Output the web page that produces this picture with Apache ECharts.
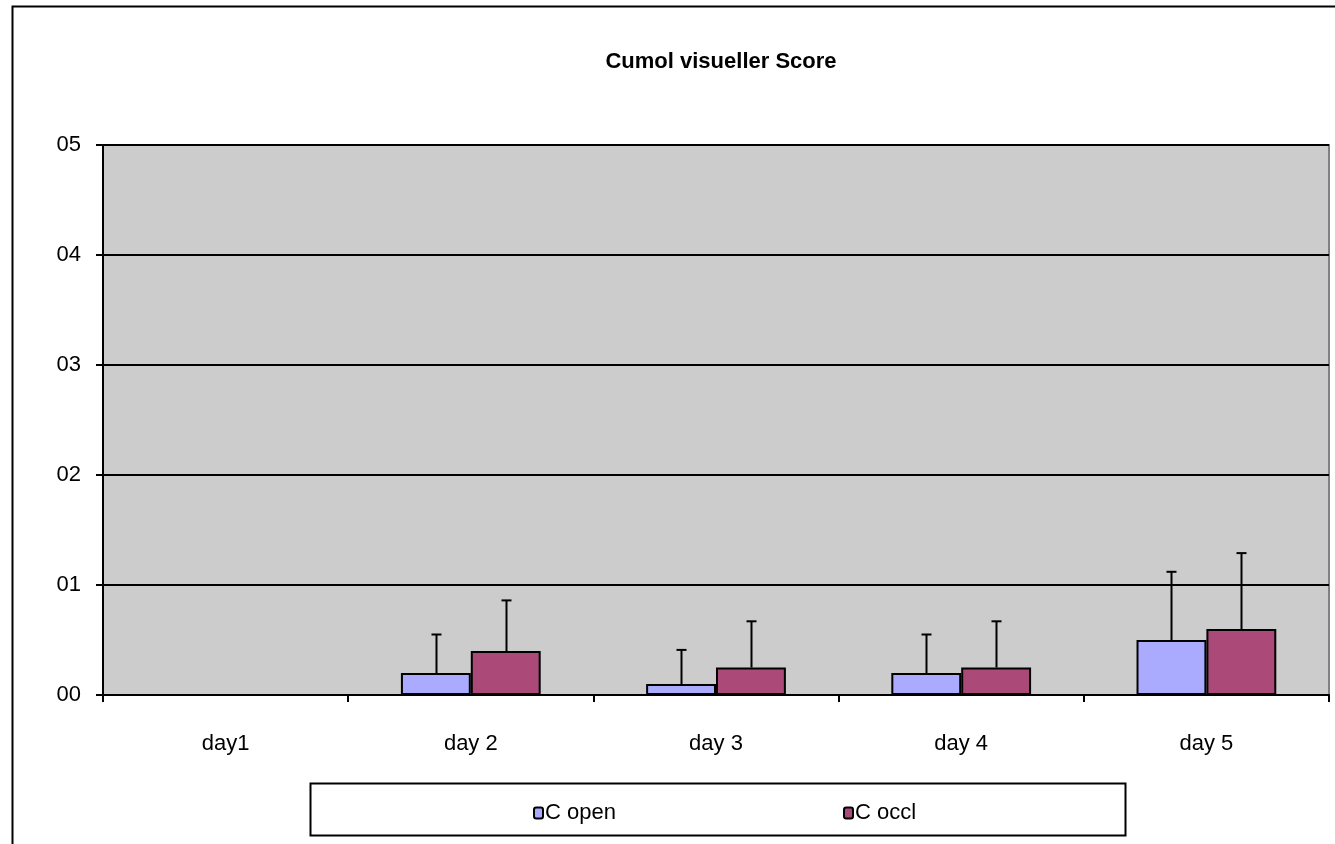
<!DOCTYPE html>
<html>
<head>
<meta charset="utf-8">
<script src="https://cdn.jsdelivr.net/npm/echarts@6/dist/echarts.min.js"></script>
<style>
html,body{margin:0;padding:0;background:#fff;}
#chart{width:1335px;height:844px;}
</style>
</head>
<body>
<div id="chart"></div>
<script>
const categories = ['day1', 'day 2', 'day 3', 'day 4', 'day 5'];
const openValues = [0, 0.2, 0.1, 0.2, 0.5];
const occlValues = [0, 0.4, 0.25, 0.25, 0.6];
const openErrors = [0, 0.35, 0.31, 0.35, 0.62];
const occlErrors = [0, 0.46, 0.42, 0.42, 0.69];
const yTicks = [0, 1, 2, 3, 4, 5];

const FONT = 'Liberation Sans, Arial, sans-serif';
const CAT_GAP = 0.43;

function errSeries(name, values, errors, side) {
  return {
    type: 'custom',
    name: name + ' err',
    z: 5,
    silent: true,
    data: categories.map((c, i) => [i, values[i], errors[i]]),
    renderItem: function (params, api) {
      const i = api.value(0);
      const v = api.value(1);
      const e = api.value(2);
      if (!e) return null;
      const band = api.size([1, 0])[0];
      const barW = band * (1 - CAT_GAP) / 2;
      const base = api.coord([i, v]);
      const top = api.coord([i, v + e]);
      const x = Math.round(base[0] + side * barW / 2) + 0.5;
      const cap = 5;
      return {
        type: 'group',
        children: [
          {type: 'line', shape: {x1: x, y1: base[1], x2: x, y2: top[1]}, style: {stroke: '#000', lineWidth: 2}},
          {type: 'line', shape: {x1: x - cap, y1: top[1], x2: x + cap, y2: top[1]}, style: {stroke: '#000', lineWidth: 2}}
        ]
      };
    }
  };
}

const chart = echarts.init(document.getElementById('chart'));
chart.setOption({
  backgroundColor: '#ffffff',
  animation: false,
  title: {
    text: 'Cumol visueller Score',
    left: 716, top: 46, textAlign: 'center',
    textStyle: {fontFamily: FONT, fontSize: 22, fontWeight: 'bold', color: '#000'}
  },
  graphic: [
    {type: 'polyline', shape: {points: [[12.5, 850], [12.5, 6.5], [1340, 6.5]]}, style: {stroke: '#000', lineWidth: 2, fill: null}, z: 10},
    {type: 'rect', shape: {x: 310.5, y: 783.5, width: 815, height: 52}, style: {stroke: '#000', lineWidth: 2, fill: '#fff'}, z: 1}
  ],
  legend: [
    {data: ['C open'], left: 528, top: 797, itemWidth: 9, itemHeight: 11, itemGap: 4,
     textStyle: {fontFamily: FONT, fontSize: 22, color: '#000', padding: [0, 0, 0, -3]}, z: 5},
    {data: ['C occl'], left: 838, top: 797, itemWidth: 9, itemHeight: 11, itemGap: 4,
     textStyle: {fontFamily: FONT, fontSize: 22, color: '#000', padding: [0, 0, 0, -3]}, z: 5}
  ],
  grid: {left: 103, right: 6, top: 145, bottom: 149, containLabel: false,
         show: true, backgroundColor: '#cccccc', borderColor: '#808080', borderWidth: 2},
  xAxis: {
    type: 'category',
    data: categories,
    axisLine: {show: true, lineStyle: {color: '#000', width: 2}},
    axisTick: {show: true, alignWithLabel: false, length: 7, lineStyle: {color: '#000', width: 2}},
    axisLabel: {margin: 38, fontFamily: FONT, fontSize: 22, color: '#000'},
    splitLine: {show: false}
  },
  yAxis: {
    type: 'value',
    min: yTicks[0], max: yTicks[yTicks.length - 1], interval: 1,
    axisLine: {show: true, lineStyle: {color: '#000', width: 2}},
    axisTick: {show: true, length: 7, lineStyle: {color: '#000', width: 2}},
    axisLabel: {margin: 22, fontFamily: FONT, fontSize: 22, color: '#000',
      formatter: v => String(v).padStart(2, '0')},
    splitLine: {show: true, lineStyle: {color: '#000', width: 2}}
  },
  series: [
    {name: 'C open', type: 'bar', data: openValues, barGap: '0%', barCategoryGap: (CAT_GAP * 100) + '%',
     itemStyle: {color: '#aaaaff', borderColor: '#000', borderWidth: 2}},
    {name: 'C occl', type: 'bar', data: occlValues, barGap: '0%', barCategoryGap: (CAT_GAP * 100) + '%',
     itemStyle: {color: '#ab4a78', borderColor: '#000', borderWidth: 2}},
    errSeries('C open', openValues, openErrors, -1),
    errSeries('C occl', occlValues, occlErrors, 1)
  ]
});
</script>
</body>
</html>
